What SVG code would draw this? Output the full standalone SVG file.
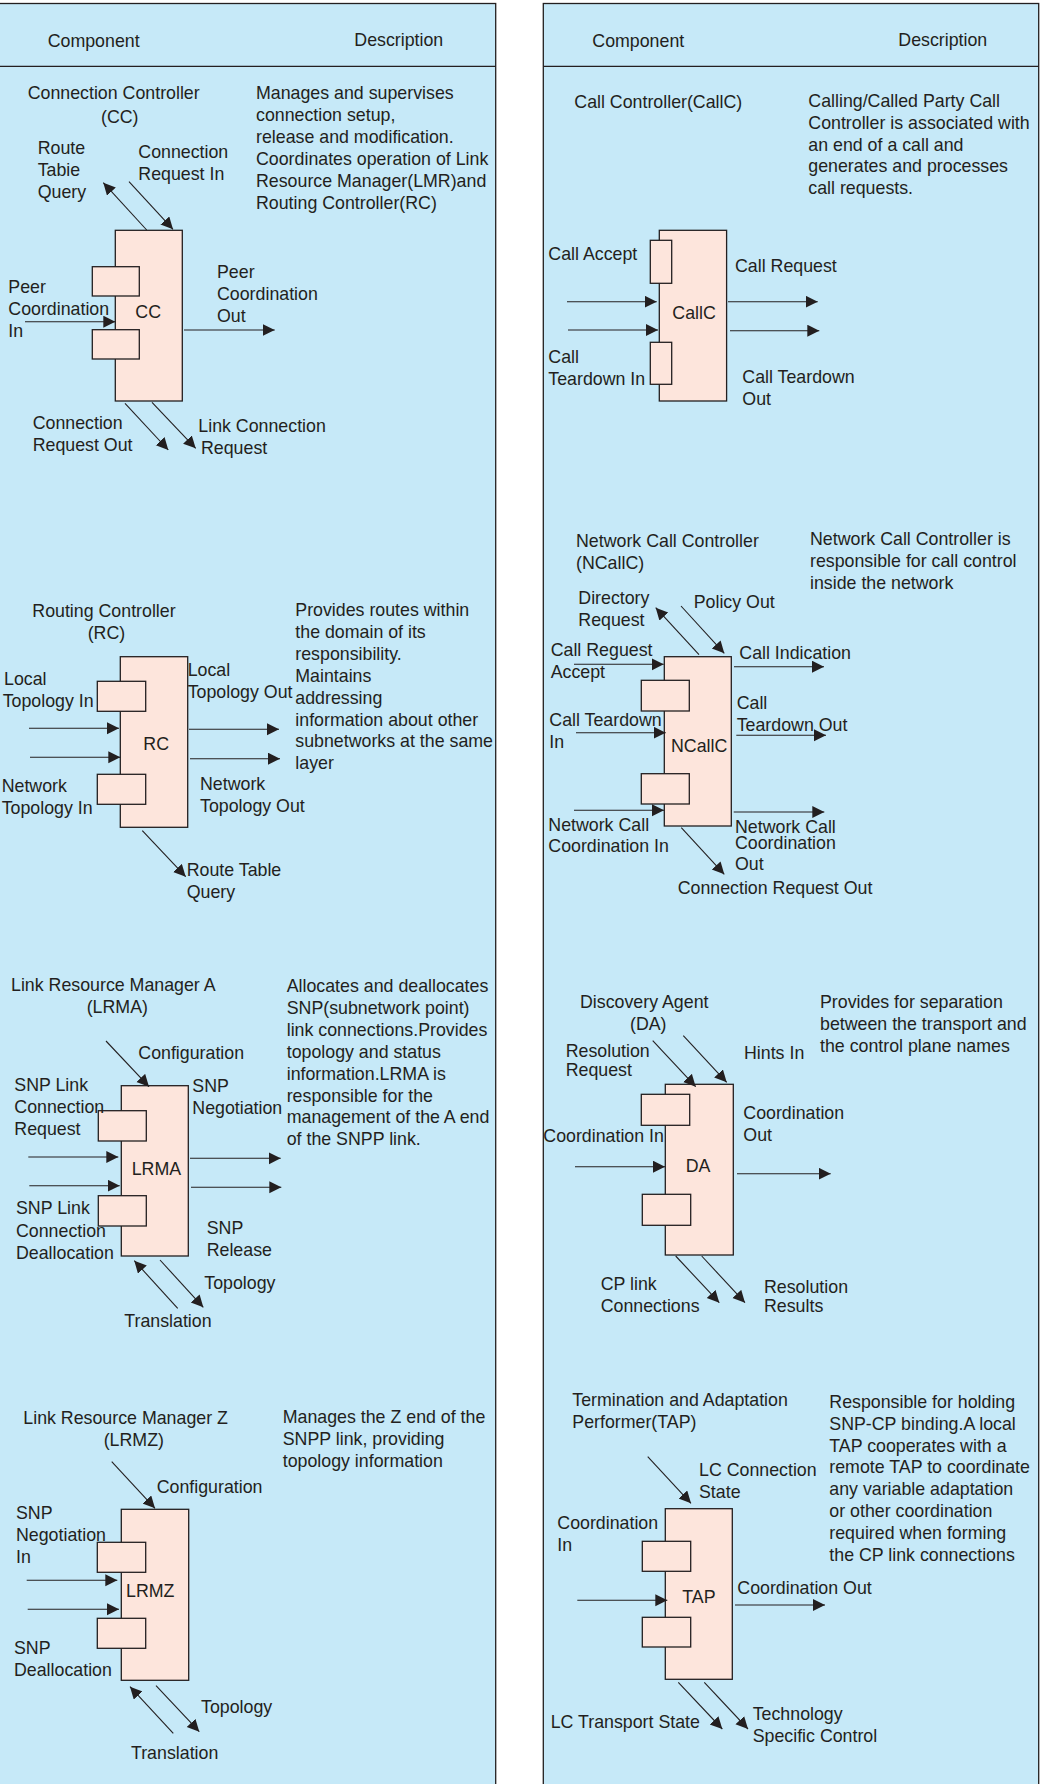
<svg xmlns="http://www.w3.org/2000/svg" width="1043" height="1784" viewBox="0 0 1043 1784">
<style>
.t{font-family:"Liberation Sans",Arial,Helvetica,sans-serif;font-size:17.8px;fill:#231f20}
.panel{fill:#c6e9f8;stroke:#231f20;stroke-width:1.3}
.box{fill:#fde5dc;stroke:#231f20;stroke-width:1.3}
.c{stroke:#231f20;stroke-width:1.1;fill:none;marker-end:url(#ah)}
</style>
<defs>
<marker id="ah" markerUnits="userSpaceOnUse" markerWidth="13" markerHeight="13" refX="12" refY="6" orient="auto">
<path d="M0,0 L12,6 L0,12 z" fill="#231f20"/>
</marker>
</defs>
<rect width="1043" height="1784" fill="#ffffff"/>
<g id="panels">
<rect class="panel" x="-2" y="3.5" width="497.7" height="1790"/>
<rect class="panel" x="543.3" y="3.5" width="495.4" height="1790"/>
<line x1="0" y1="66.3" x2="495.7" y2="66.3" stroke="#231f20" stroke-width="1.3"/>
<line x1="543.3" y1="66.3" x2="1038.7" y2="66.3" stroke="#231f20" stroke-width="1.3"/>
<text class="t" x="47.7" y="46.7">Component</text>
<text class="t" x="354.3" y="46">Description</text>
<text class="t" x="592.3" y="46.7">Component</text>
<text class="t" x="898.3" y="46">Description</text>
</g>

<g id="cc">
<rect class="box" x="115.3" y="230.3" width="67" height="170.7"/>
<rect class="box" x="92.3" y="266.7" width="47" height="29.3"/>
<rect class="box" x="92.3" y="329.7" width="47" height="29.3"/>
<text class="t" x="135.3" y="318.3">CC</text>
<text class="t" x="27.7" y="98.7">Connection Controller</text>
<text class="t" x="101" y="122.7">(CC)</text>
<text class="t"><tspan x="256" y="99.3">Manages and supervises</tspan><tspan x="256" y="121.2">connection setup,</tspan><tspan x="256" y="143.1">release and modification.</tspan><tspan x="256" y="165">Coordinates operation of Link</tspan><tspan x="256" y="186.9">Resource Manager(LMR)and</tspan><tspan x="256" y="208.8">Routing Controller(RC)</tspan></text>
<text class="t"><tspan x="37.7" y="154.4">Route</tspan><tspan x="37.7" y="176.3">Tabie</tspan><tspan x="37.7" y="198.2">Query</tspan></text>
<text class="t"><tspan x="138.3" y="157.7">Connection</tspan><tspan x="138.3" y="179.6">Request In</tspan></text>
<text class="t"><tspan x="8.3" y="292.7">Peer</tspan><tspan x="8.3" y="314.6">Coordination</tspan><tspan x="8.3" y="336.5">In</tspan></text>
<text class="t"><tspan x="217" y="278.4">Peer</tspan><tspan x="217" y="300.3">Coordination</tspan><tspan x="217" y="322.2">Out</tspan></text>
<text class="t"><tspan x="32.7" y="429.4">Connection</tspan><tspan x="32.7" y="451.3">Request Out</tspan></text>
<text class="t"><tspan x="198.3" y="432">Link Connection</tspan><tspan x="201" y="453.9">Request</tspan></text>
</g>

<g id="callc">
<rect class="box" x="659.3" y="230.3" width="67.3" height="170.7"/>
<rect class="box" x="650.3" y="240.3" width="21.4" height="43"/>
<rect class="box" x="650.3" y="342.3" width="21.4" height="42"/>
<text class="t" x="672.3" y="319.3">CallC</text>
<text class="t" x="574.3" y="107.7">Call Controller(CallC)</text>
<text class="t"><tspan x="808.3" y="106.7">Calling/Called Party Call</tspan><tspan x="808.3" y="128.6">Controller is associated with</tspan><tspan x="808.3" y="150.5">an end of a call and</tspan><tspan x="808.3" y="172.4">generates and processes</tspan><tspan x="808.3" y="194.3">call requests.</tspan></text>
<text class="t" x="548.3" y="260.4">Call Accept</text>
<text class="t" x="735" y="272">Call Request</text>
<text class="t"><tspan x="548.3" y="362.7">Call</tspan><tspan x="548.3" y="384.6">Teardown In</tspan></text>
<text class="t"><tspan x="742.3" y="383.4">Call Teardown</tspan><tspan x="742.3" y="405.3">Out</tspan></text>
</g>

<g id="rc">
<rect class="box" x="120.3" y="656.7" width="67.4" height="170.6"/>
<rect class="box" x="97.3" y="681.3" width="48.4" height="30"/>
<rect class="box" x="97.3" y="774.3" width="48.4" height="30"/>
<text class="t" x="143.3" y="750">RC</text>
<text class="t" x="32.3" y="616.7">Routing Controller</text>
<text class="t" x="87.7" y="638.6">(RC)</text>
<text class="t"><tspan x="295.3" y="616">Provides routes within</tspan><tspan x="295.3" y="637.9">the domain of its</tspan><tspan x="295.3" y="659.8">responsibility.</tspan><tspan x="295.3" y="681.7">Maintains</tspan><tspan x="295.3" y="703.6">addressing</tspan><tspan x="295.3" y="725.5">information about other</tspan><tspan x="295.3" y="747.4">subnetworks at the same</tspan><tspan x="295.3" y="769.3">layer</tspan></text>
<text class="t"><tspan x="4" y="684.7">Local</tspan><tspan x="2.7" y="706.6">Topology In</tspan></text>
<text class="t"><tspan x="1.7" y="791.7">Network</tspan><tspan x="1.7" y="813.6">Topology In</tspan></text>
<text class="t"><tspan x="187.7" y="676.4">Local</tspan><tspan x="187.7" y="698.3">Topology Out</tspan></text>
<text class="t"><tspan x="200" y="790">Network</tspan><tspan x="200" y="811.9">Topology Out</tspan></text>
<text class="t"><tspan x="186.7" y="876">Route Table</tspan><tspan x="186.7" y="897.9">Query</tspan></text>
</g>

<g id="ncallc">
<rect class="box" x="664.3" y="656.7" width="67" height="169.3"/>
<rect class="box" x="641.3" y="680.3" width="48" height="30.7"/>
<rect class="box" x="641.3" y="773.7" width="48" height="30.3"/>
<text class="t" x="671" y="752">NCallC</text>
<text class="t"><tspan x="576" y="546.7">Network Call Controller</tspan><tspan x="576" y="568.6">(NCallC)</tspan></text>
<text class="t"><tspan x="810" y="545.4">Network Call Controller is</tspan><tspan x="810" y="567.3">responsible for call control</tspan><tspan x="810" y="589.2">inside the network</tspan></text>
<text class="t"><tspan x="578.3" y="604.4">Directory</tspan><tspan x="578.3" y="626.3">Request</tspan></text>
<text class="t" x="693.7" y="607.7">Policy Out</text>
<text class="t"><tspan x="550.7" y="656">Call Reguest</tspan><tspan x="550.7" y="677.9">Accept</tspan></text>
<text class="t"><tspan x="549.3" y="726">Call Teardown</tspan><tspan x="549.3" y="747.9">In</tspan></text>
<text class="t"><tspan x="548.3" y="831">Network Call</tspan><tspan x="548.3" y="852">Coordination In</tspan></text>
<text class="t" x="739.3" y="659.4">Call Indication</text>
<text class="t"><tspan x="736.7" y="709.4">Call</tspan><tspan x="736.7" y="731.3">Teardown Out</tspan></text>
<text class="t"><tspan x="735" y="832.7">Network Call</tspan><tspan x="735" y="848.7">Coordination</tspan><tspan x="735" y="870.3">Out</tspan></text>
<text class="t" x="677.7" y="893.7">Connection Request Out</text>
</g>

<g id="lrma">
<rect class="box" x="121.3" y="1085.7" width="67" height="170.3"/>
<rect class="box" x="98.3" y="1110.7" width="48" height="30.3"/>
<rect class="box" x="98.3" y="1195.7" width="48" height="30.3"/>
<text class="t" x="131.7" y="1175">LRMA</text>
<text class="t"><tspan x="11" y="990.7">Link Resource Manager A</tspan><tspan x="86.7" y="1012.6">(LRMA)</tspan></text>
<text class="t"><tspan x="286.7" y="992">Allocates and deallocates</tspan><tspan x="286.7" y="1013.9">SNP(subnetwork point)</tspan><tspan x="286.7" y="1035.8">link connections.Provides</tspan><tspan x="286.7" y="1057.7">topology and status</tspan><tspan x="286.7" y="1079.6">information.LRMA is</tspan><tspan x="286.7" y="1101.5">responsible for the</tspan><tspan x="286.7" y="1123.4">management of the A end</tspan><tspan x="286.7" y="1145.3">of the SNPP link.</tspan></text>
<text class="t" x="138.3" y="1059.4">Configuration</text>
<text class="t"><tspan x="14.3" y="1091">SNP Link</tspan><tspan x="14.3" y="1113">Connection</tspan><tspan x="14.3" y="1135">Request</tspan></text>
<text class="t"><tspan x="192.3" y="1091.7">SNP</tspan><tspan x="192.3" y="1113.6">Negotiation</tspan></text>
<text class="t"><tspan x="16" y="1214.4">SNP Link</tspan><tspan x="16" y="1237">Connection</tspan><tspan x="16" y="1259">Deallocation</tspan></text>
<text class="t"><tspan x="206.7" y="1233.7">SNP</tspan><tspan x="206.7" y="1255.6">Release</tspan></text>
<text class="t" x="204.3" y="1288.7">Topology</text>
<text class="t" x="124.3" y="1327">Translation</text>
</g>

<g id="da">
<rect class="box" x="665.3" y="1084.3" width="68" height="170.7"/>
<rect class="box" x="641.3" y="1094.3" width="48.4" height="31"/>
<rect class="box" x="642.3" y="1194.3" width="48.4" height="31"/>
<text class="t" x="685.7" y="1171.7">DA</text>
<text class="t"><tspan x="580" y="1007.7">Discovery Agent</tspan><tspan x="630" y="1029.6">(DA)</tspan></text>
<text class="t"><tspan x="820" y="1007.7">Provides for separation</tspan><tspan x="820" y="1029.6">between the transport and</tspan><tspan x="820" y="1051.5">the control plane names</tspan></text>
<text class="t"><tspan x="565.7" y="1056.7">Resolution</tspan><tspan x="565.7" y="1076">Request</tspan></text>
<text class="t" x="744" y="1059.4">Hints In</text>
<text class="t" x="543.3" y="1141.7">Coordination In</text>
<text class="t"><tspan x="743.3" y="1119.4">Coordination</tspan><tspan x="743.3" y="1141.3">Out</tspan></text>
<text class="t"><tspan x="600.7" y="1290">CP link</tspan><tspan x="600.7" y="1311.7">Connections</tspan></text>
<text class="t"><tspan x="764" y="1292.7">Resolution</tspan><tspan x="764" y="1312">Results</tspan></text>
</g>

<g id="lrmz">
<rect class="box" x="121.3" y="1509.3" width="67.4" height="171"/>
<rect class="box" x="97.3" y="1542.3" width="48.4" height="30"/>
<rect class="box" x="97.3" y="1618.3" width="48.4" height="30"/>
<text class="t" x="126" y="1597.3">LRMZ</text>
<text class="t"><tspan x="23.3" y="1424.4">Link Resource Manager Z</tspan><tspan x="103.7" y="1446.3">(LRMZ)</tspan></text>
<text class="t"><tspan x="282.7" y="1422.7">Manages the Z end of the</tspan><tspan x="282.7" y="1444.6">SNPP link, providing</tspan><tspan x="282.7" y="1466.5">topology information</tspan></text>
<text class="t" x="156.7" y="1492.7">Configuration</text>
<text class="t"><tspan x="16" y="1519.4">SNP</tspan><tspan x="16" y="1541.3">Negotiation</tspan><tspan x="16" y="1563.2">In</tspan></text>
<text class="t"><tspan x="14" y="1653.7">SNP</tspan><tspan x="14" y="1675.6">Deallocation</tspan></text>
<text class="t" x="201" y="1712.7">Topology</text>
<text class="t" x="131" y="1758.7">Translation</text>
</g>

<g id="tap">
<rect class="box" x="665.3" y="1508.7" width="67" height="170.6"/>
<rect class="box" x="642.3" y="1541.3" width="48.4" height="30"/>
<rect class="box" x="642.3" y="1617.3" width="48.4" height="29.7"/>
<text class="t" x="682.3" y="1603.3">TAP</text>
<text class="t"><tspan x="572.3" y="1406">Termination and Adaptation</tspan><tspan x="572.3" y="1427.9">Performer(TAP)</tspan></text>
<text class="t"><tspan x="829.3" y="1407.7">Responsible for holding</tspan><tspan x="829.3" y="1429.6">SNP-CP binding.A local</tspan><tspan x="829.3" y="1451.5">TAP cooperates with a</tspan><tspan x="829.3" y="1473.4">remote TAP to coordinate</tspan><tspan x="829.3" y="1495.3">any variable adaptation</tspan><tspan x="829.3" y="1517.2">or other coordination</tspan><tspan x="829.3" y="1539.1">required when forming</tspan><tspan x="829.3" y="1561">the CP link connections</tspan></text>
<text class="t"><tspan x="699" y="1476">LC Connection</tspan><tspan x="699" y="1497.9">State</tspan></text>
<text class="t"><tspan x="557.3" y="1529.4">Coordination</tspan><tspan x="557.3" y="1551.3">In</tspan></text>
<text class="t" x="737.3" y="1594">Coordination Out</text>
<text class="t" x="550.7" y="1727.7">LC Transport State</text>
<text class="t"><tspan x="752.7" y="1720.4">Technology</tspan><tspan x="752.7" y="1742.3">Specific Control</tspan></text>
</g>

<g id="connectors">
<line class="c" x1="146.7" y1="230" x2="103.3" y2="182.7"/>
<line class="c" x1="129" y1="181.7" x2="173" y2="229.3"/>
<line class="c" x1="25" y1="321.7" x2="115.3" y2="321.7"/>
<line class="c" x1="184" y1="330" x2="274.7" y2="330"/>
<line class="c" x1="125" y1="403.3" x2="168.3" y2="450"/>
<line class="c" x1="152" y1="402.3" x2="195.7" y2="448.3"/>

<line class="c" x1="567" y1="301.7" x2="656.7" y2="301.7"/>
<line class="c" x1="568" y1="330" x2="658" y2="330"/>
<line class="c" x1="728" y1="301.7" x2="817.7" y2="301.7"/>
<line class="c" x1="730" y1="330.7" x2="819.3" y2="330.7"/>

<line class="c" x1="29" y1="728.3" x2="119" y2="728.3"/>
<line class="c" x1="30" y1="757.3" x2="120.3" y2="757.3"/>
<line class="c" x1="189" y1="729.3" x2="279" y2="729.3"/>
<line class="c" x1="190" y1="758.7" x2="280" y2="758.7"/>
<line class="c" x1="142.3" y1="830.7" x2="185.7" y2="876.7"/>

<line class="c" x1="699" y1="654.7" x2="655.7" y2="607.7"/>
<line class="c" x1="681" y1="606" x2="724.3" y2="653.3"/>
<line class="c" x1="574" y1="664.3" x2="663.7" y2="664.3"/>
<line class="c" x1="576" y1="732.7" x2="665.7" y2="732.7"/>
<line class="c" x1="574" y1="810.3" x2="664" y2="810.3"/>
<line class="c" x1="734" y1="666.7" x2="824" y2="666.7"/>
<line class="c" x1="736.3" y1="735.3" x2="826" y2="735.3"/>
<line class="c" x1="733.7" y1="812" x2="824.3" y2="812"/>
<line class="c" x1="681.3" y1="827.7" x2="724.3" y2="874.3"/>

<line class="c" x1="106" y1="1041" x2="149" y2="1086.7"/>
<line class="c" x1="28.3" y1="1157" x2="118.3" y2="1157"/>
<line class="c" x1="29.3" y1="1185.7" x2="119.7" y2="1185.7"/>
<line class="c" x1="190" y1="1158.3" x2="280.7" y2="1158.3"/>
<line class="c" x1="191" y1="1187.3" x2="281.3" y2="1187.3"/>
<line class="c" x1="177.7" y1="1308.3" x2="134.3" y2="1260.7"/>
<line class="c" x1="160" y1="1260" x2="203.3" y2="1307.3"/>

<line class="c" x1="652.7" y1="1040.7" x2="695.7" y2="1086.7"/>
<line class="c" x1="683.3" y1="1035.7" x2="726.7" y2="1082.3"/>
<line class="c" x1="575" y1="1166.7" x2="665" y2="1166.7"/>
<line class="c" x1="737" y1="1173.7" x2="830.7" y2="1173.7"/>
<line class="c" x1="675.7" y1="1256" x2="719.3" y2="1302.7"/>
<line class="c" x1="701.7" y1="1256" x2="745" y2="1302.7"/>

<line class="c" x1="111.7" y1="1461.7" x2="155" y2="1508.3"/>
<line class="c" x1="26.7" y1="1580.3" x2="117.3" y2="1580.3"/>
<line class="c" x1="27.7" y1="1609.3" x2="119" y2="1609.3"/>
<line class="c" x1="173.3" y1="1733.3" x2="130" y2="1686.7"/>
<line class="c" x1="156" y1="1685.7" x2="199.3" y2="1731.7"/>

<line class="c" x1="647.7" y1="1456.7" x2="691" y2="1503.3"/>
<line class="c" x1="577.3" y1="1600.3" x2="667.3" y2="1600.3"/>
<line class="c" x1="735" y1="1605" x2="825" y2="1605"/>
<line class="c" x1="678.3" y1="1682.3" x2="722.3" y2="1729"/>
<line class="c" x1="704.3" y1="1682.3" x2="748" y2="1729"/>
</g>
</svg>
